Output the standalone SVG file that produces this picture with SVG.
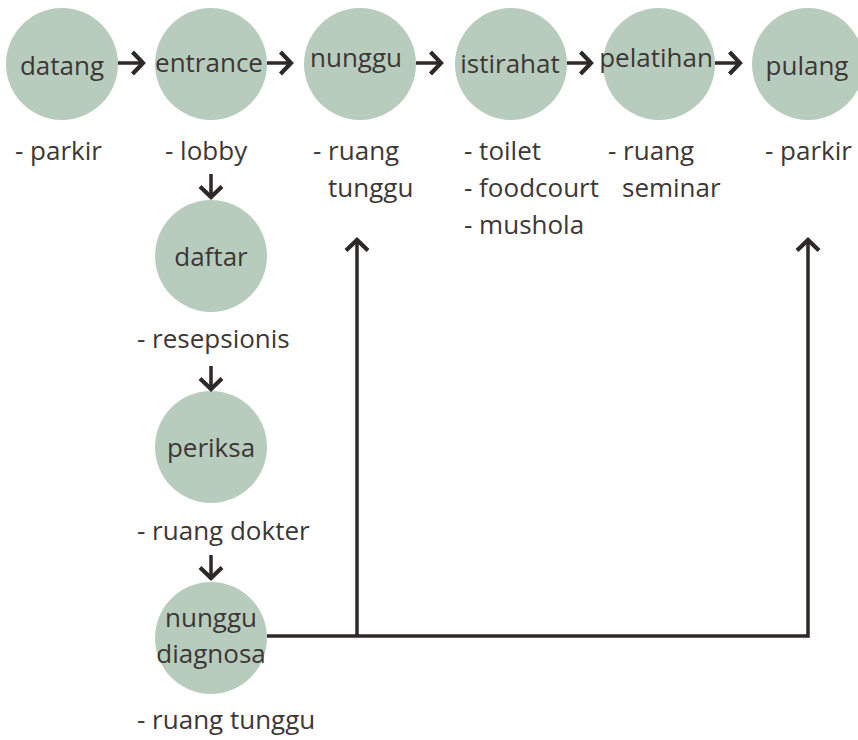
<svg xmlns="http://www.w3.org/2000/svg" width="858" height="740" viewBox="0 0 858 740">
  <style>
    .node { fill: #b8ccbe; }
    .lbl { font-family: "Open Sans", "Liberation Sans", sans-serif; font-size: 26px; fill: #3d3735; }
    .c { text-anchor: middle; }
    .wire { fill: none; stroke: #2e2927; stroke-width: 3.5; }
  </style>
  <defs>
    <marker id="head" markerUnits="userSpaceOnUse" viewBox="-16 -15 20 30" markerWidth="20" markerHeight="30" refX="0" refY="0" orient="auto">
      <path d="M-10.5,-11 L0,0 L-10.5,11" fill="none" stroke="#2e2927" stroke-width="4.2"/>
    </marker>
  </defs>
  <rect width="858" height="740" fill="#ffffff"/>

  <!-- main flow, top row -->
  <g id="datang">
    <circle class="node" cx="62" cy="64" r="56"/>
    <text class="lbl c" x="62" y="75">datang</text>
    <text class="lbl" x="15" y="160">- parkir</text>
  </g>
  <g id="entrance">
    <circle class="node" cx="211" cy="64" r="56"/>
    <text class="lbl c" x="209" y="72">entrance</text>
    <text class="lbl" x="165" y="160">- lobby</text>
  </g>
  <g id="nunggu">
    <circle class="node" cx="360" cy="64" r="56"/>
    <text class="lbl c" x="356" y="67">nunggu</text>
    <text class="lbl" x="313" y="160">- ruang</text>
    <text class="lbl" x="328" y="197">tunggu</text>
  </g>
  <g id="istirahat">
    <circle class="node" cx="511" cy="64" r="56"/>
    <text class="lbl c" x="510" y="73">istirahat</text>
    <text class="lbl" x="464" y="160">- toilet</text>
    <text class="lbl" x="464" y="197">- foodcourt</text>
    <text class="lbl" x="464" y="234">- mushola</text>
  </g>
  <g id="pelatihan">
    <circle class="node" cx="659" cy="64" r="56"/>
    <text class="lbl c" x="656" y="67">pelatihan</text>
    <text class="lbl" x="608" y="160">- ruang</text>
    <text class="lbl" x="622" y="197">seminar</text>
  </g>
  <g id="pulang">
    <circle class="node" cx="808" cy="64" r="56"/>
    <text class="lbl c" x="807" y="75">pulang</text>
    <text class="lbl" x="765" y="160">- parkir</text>
  </g>

  <!-- registration column -->
  <g id="daftar">
    <circle class="node" cx="211" cy="256" r="56"/>
    <text class="lbl c" x="211" y="266">daftar</text>
    <text class="lbl" x="137" y="348">- resepsionis</text>
  </g>
  <g id="periksa">
    <circle class="node" cx="211" cy="447" r="56"/>
    <text class="lbl c" x="211" y="457">periksa</text>
    <text class="lbl" x="137" y="540">- ruang dokter</text>
  </g>
  <g id="nunggu-diagnosa">
    <circle class="node" cx="211" cy="638" r="56"/>
    <text class="lbl c" x="211" y="627">nunggu</text>
    <text class="lbl c" x="211" y="663">diagnosa</text>
    <text class="lbl" x="137" y="729">- ruang tunggu</text>
  </g>

  <g id="connectors">
    <line class="wire" x1="118" y1="63" x2="143" y2="63" marker-end="url(#head)"/>
    <line class="wire" x1="267" y1="63" x2="291" y2="63" marker-end="url(#head)"/>
    <line class="wire" x1="416" y1="63" x2="441" y2="63" marker-end="url(#head)"/>
    <line class="wire" x1="567" y1="63" x2="591" y2="63" marker-end="url(#head)"/>
    <line class="wire" x1="715" y1="63" x2="740" y2="63" marker-end="url(#head)"/>

    <line class="wire" x1="211" y1="174" x2="211" y2="197" marker-end="url(#head)"/>
    <line class="wire" x1="211" y1="366" x2="211" y2="389" marker-end="url(#head)"/>
    <line class="wire" x1="211" y1="555" x2="211" y2="578" marker-end="url(#head)"/>

    <path class="wire" d="M267,636 H808 V240" marker-end="url(#head)"/>
    <path class="wire" d="M357,636 V240" marker-end="url(#head)"/>
  </g>
</svg>
